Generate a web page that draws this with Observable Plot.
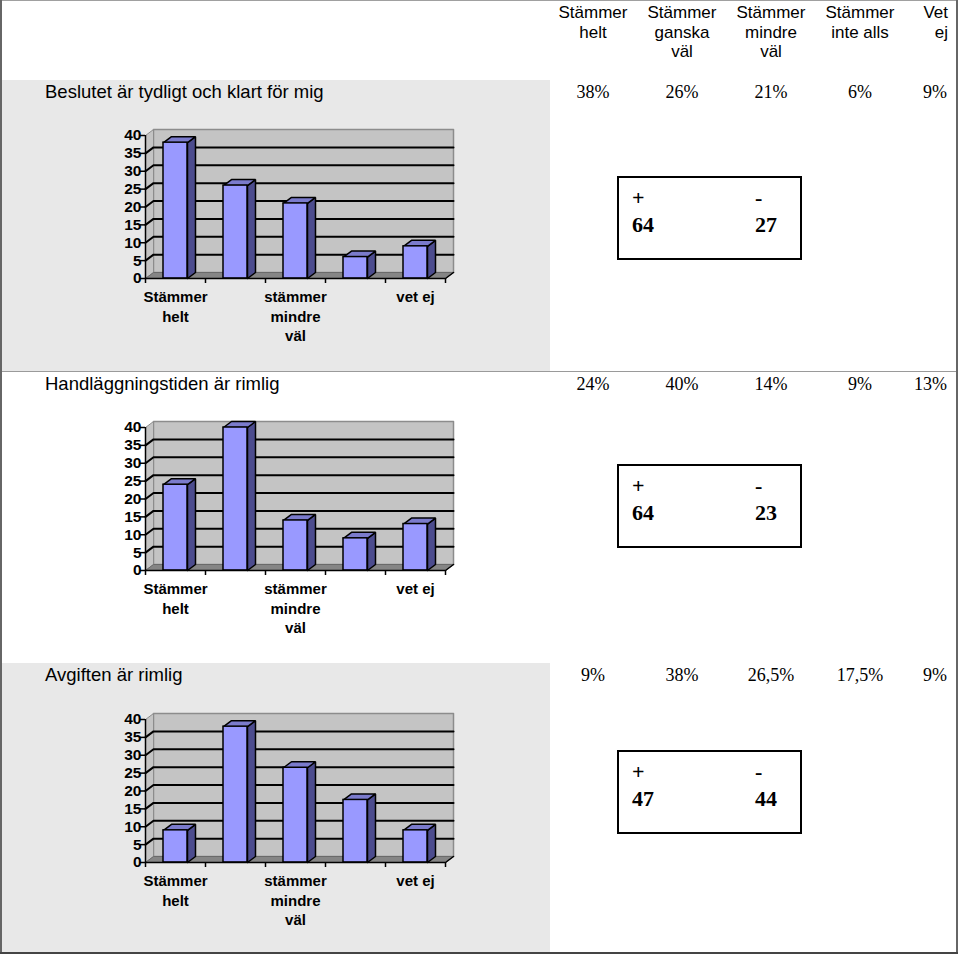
<!DOCTYPE html>
<html><head><meta charset="utf-8">
<script src="https://cdn.jsdelivr.net/npm/d3@7"></script>
<script src="https://cdn.jsdelivr.net/npm/@observablehq/plot@0.6"></script>
<style>
body{margin:0;background:#fff;}
#page{position:relative;width:960px;height:956px;overflow:hidden;font-family:"Liberation Sans",Arial,sans-serif;color:#000;}
.abs{position:absolute;}
.hdr{position:absolute;font-size:17px;line-height:19.5px;text-align:center;width:100px;white-space:nowrap;}
.lbl{position:absolute;left:45px;font-size:18.5px;line-height:22px;white-space:nowrap;}
.pct{position:absolute;font-family:"Liberation Serif","Times New Roman",serif;font-size:18px;line-height:22px;width:100px;text-align:center;white-space:nowrap;}
.box{position:absolute;left:617px;width:181px;height:80px;border:2px solid #000;background:#fff;font-family:"Liberation Serif","Times New Roman",serif;font-weight:bold;font-size:22px;}
.box div{position:absolute;line-height:22px;white-space:nowrap;}
svg{overflow:visible;}
</style></head><body><div id="page"></div>
<script>
// ---------- data ----------
const categories = ["Stämmer helt","Stämmer ganska väl","Stämmer mindre väl","Stämmer inte alls","Vet ej"];
const headerLabels = [["Stämmer","helt"],["Stämmer","ganska","väl"],["Stämmer","mindre","väl"],["Stämmer","inte alls"],["Vet","ej"]];
const statements = ["Beslutet är tydligt och klart för mig","Handläggningstiden är rimlig","Avgiften är rimlig"];
const values1 = [38,26,21,6,9];
const values2 = [24,40,14,9,13];
const values3 = [9,38,26.5,17.5,9];
const pctLabels1 = ["38%","26%","21%","6%","9%"];
const pctLabels2 = ["24%","40%","14%","9%","13%"];
const pctLabels3 = ["9%","38%","26,5%","17,5%","9%"];
const plusTotals = [64,64,47];
const minusTotals = [27,23,44];
const axisLabels = ["Stämmer\nhelt","","stämmer\nmindre\nväl","","vet ej"];
const yTicks = [0,5,10,15,20,25,30,35,40];
const gridValues = [5,10,15,20,25,30,35];

const sections = [
  {statement: statements[0], values: values1, pcts: pctLabels1, plus: plusTotals[0], minus: minusTotals[0]},
  {statement: statements[1], values: values2, pcts: pctLabels2, plus: plusTotals[1], minus: minusTotals[1]},
  {statement: statements[2], values: values3, pcts: pctLabels3, plus: plusTotals[2], minus: minusTotals[2]}
];

const page = document.getElementById("page");
function el(cls, css, html){
  const d = document.createElement("div");
  if (cls) d.className = cls;
  Object.assign(d.style, css);
  if (html != null) d.innerHTML = html;
  page.appendChild(d);
  return d;
}

// ---------- table frame ----------
el("abs", {left:"2px", top:"80px", width:"548px", height:"291px", background:"#e8e8e8"});
el("abs", {left:"2px", top:"663px", width:"548px", height:"289px", background:"#e8e8e8"});
el("abs", {left:"0px", top:"371px", width:"958px", height:"1px", background:"#9a9a9a"});
el("abs", {left:"0px", top:"0px", width:"958px", height:"1px", background:"#a0a0a0"});
el("abs", {left:"0px", top:"0px", width:"2px", height:"954px", background:"#666"});
el("abs", {left:"956px", top:"0px", width:"2px", height:"954px", background:"#666"});
el("abs", {left:"0px", top:"952px", width:"958px", height:"2px", background:"#444"});

const colCenters = [593, 682, 771, 860];
headerLabels.forEach((lines, i) => {
  if (i < 4) el("hdr", {left:(colCenters[i]-50)+"px", top:"3px"}, lines.join("<br>"));
  else el("hdr", {left:(948-100)+"px", top:"3px", textAlign:"right"}, lines.join("<br>"));
});

const secTops = [80, 372, 663];
const chartTops = [120, 412, 704];
const boxTops = [176, 464, 750];

// ---------- 3D column chart ----------
function chart(values){
  const n = values.length, ymax = 40;
  const DX = 8/60, DY = 6/3.575;
  const idx = d3.range(n);
  const poly = (pts, k) => pts.map(p => ({x:p[0], y:p[1], k}));
  const backWall = poly([[DX,DY],[n+DX,DY],[n+DX,ymax+DY],[DX,ymax+DY],[DX,DY]], "back");
  const leftWall = poly([[0,0],[DX,DY],[DX,ymax+DY],[0,ymax],[0,0]], "left");
  const floor = poly([[0,0],[n,0],[n+DX,DY],[DX,DY],[0,0]], "floor");
  const grid = gridValues.flatMap(v => poly([[0,v],[DX,v+DY],[n+DX,v+DY]], "g"+v));
  const sides = idx.flatMap(i => {
    const x2 = i+0.7, v = values[i];
    return poly([[x2,0],[x2+DX,DY],[x2+DX,v+DY],[x2,v],[x2,0]], "s"+i);
  });
  const tops = idx.flatMap(i => {
    const x1 = i+0.3, x2 = i+0.7, v = values[i];
    return poly([[x1,v],[x2,v],[x2+DX,v+DY],[x1+DX,v+DY],[x1,v]], "t"+i);
  });
  const xAxis = poly([[0,0],[n,0],[n+DX,DY]], "xa");
  return Plot.plot({
    width: 370, height: 232,
    x: {domain:[0,n], range:[45,345], axis:null},
    y: {domain:[0,ymax], range:[158,15], axis:null},
    style: {background:"transparent", fontFamily:"'Liberation Sans', Arial, sans-serif", overflow:"visible"},
    marks: [
      Plot.line(backWall, {x:"x", y:"y", z:"k", fill:"#c4c4c4", stroke:"#8c8c8c", strokeWidth:1.5}),
      Plot.line(leftWall, {x:"x", y:"y", z:"k", fill:"#c4c4c4", stroke:"#8c8c8c", strokeWidth:1}),
      Plot.line(floor, {x:"x", y:"y", z:"k", fill:"#858585", stroke:"#6a6a6a", strokeWidth:1}),
      Plot.line(grid, {x:"x", y:"y", z:"k", stroke:"#000", strokeWidth:2}),
      Plot.line(sides, {x:"x", y:"y", z:"k", fill:"#4c4c8e", stroke:"#000", strokeWidth:1.5, strokeLinejoin:"miter"}),
      Plot.line(tops, {x:"x", y:"y", z:"k", fill:"#7b7bcc", stroke:"#000", strokeWidth:1.5, strokeLinejoin:"miter"}),
      Plot.rect(idx, {x1:i=>i+0.3, x2:i=>i+0.7, y1:()=>0, y2:i=>values[i], fill:"#9999ff", stroke:"#000", strokeWidth:1.5}),
      Plot.ruleX([0], {x:d=>d, y1:()=>0, y2:()=>ymax, stroke:"#000", strokeWidth:1.5}),
      Plot.line(xAxis, {x:"x", y:"y", z:"k", stroke:"#000", strokeWidth:1.5}),
      Plot.ruleY(yTicks, {y:d=>d, x1:()=>-0.085, x2:()=>0, stroke:"#000", strokeWidth:1.5}),
      Plot.ruleX(d3.range(n+1), {x:d=>d, y1:()=>0, y2:()=>-1.4, stroke:"#000", strokeWidth:1.5}),
      Plot.text(yTicks, {x:()=>0, y:d=>d, text:d=>String(d), textAnchor:"end", dx:-4, fontSize:15.5, fontWeight:"bold", fill:"#000"}),
      Plot.text(idx, {x:i=>i+0.5, y:()=>0, text:i=>axisLabels[i], lineAnchor:"top", dy:10, lineHeight:1.3, fontSize:15, fontWeight:"bold", fill:"#000"})
    ]
  });
}

sections.forEach((s, k) => {
  el("lbl", {top:(secTops[k]+1)+"px"}, s.statement);
  s.pcts.forEach((p, i) => {
    if (i < 4) el("pct", {left:(colCenters[i]-50)+"px", top:(secTops[k]+1)+"px"}, p);
    else el("pct", {left:(947-100)+"px", top:(secTops[k]+1)+"px", textAlign:"right"}, p);
  });
  const holder = el("abs", {left:"100px", top:chartTops[k]+"px"});
  holder.appendChild(chart(s.values));
  const box = el("box", {top:boxTops[k]+"px"});
  const add = (txt, l, t) => { const d = document.createElement("div"); d.textContent = txt; d.style.left = l+"px"; d.style.top = t+"px"; box.appendChild(d); };
  add("+", 13, 9);
  add("-", 136, 9);
  add(String(s.plus), 13, 36);
  add(String(s.minus), 136, 36);
});
</script>
</body></html>
